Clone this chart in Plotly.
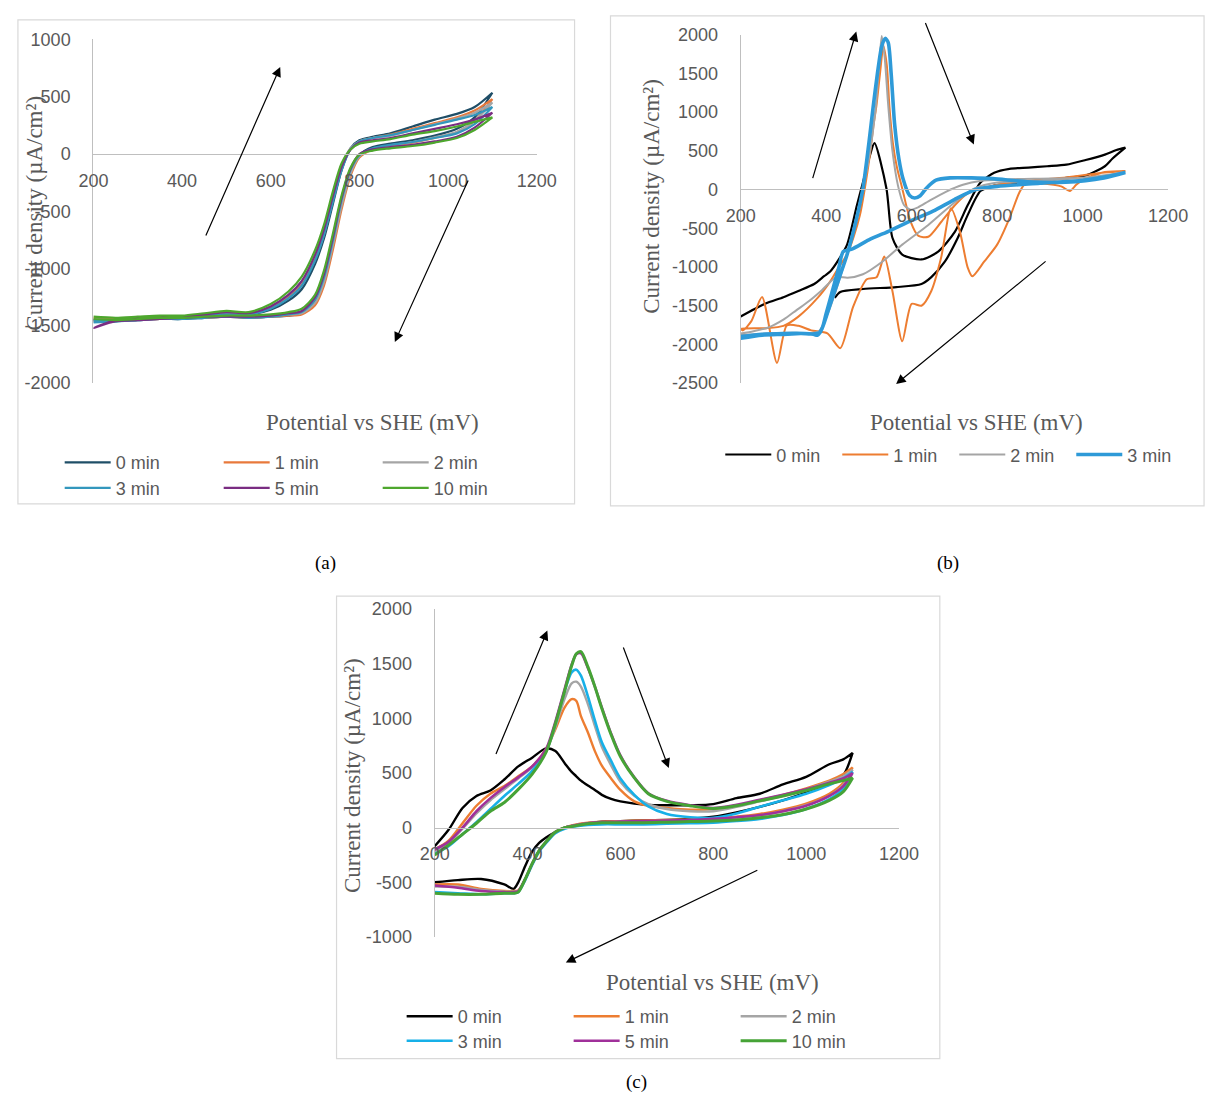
import plotly.graph_objects as go

W, H = 1226, 1108

# ---------------- Panel (a) data ----------------
A_NAMES = ["0 min", "1 min", "2 min", "3 min", "5 min", "10 min"]
A_COLORS = ["#1f4e67", "#e8793b", "#a5a5a5", "#3397bd", "#7a2d82", "#4ea72e"]
A_POT = [200, 250, 300, 350, 400, 450, 500, 550, 600, 640, 670, 700, 720, 740, 760, 780, 800, 830, 870, 920, 970, 1020, 1060, 1100]
# forward (left-hand rise, upper at high potential)
A_FWD_0 = [-1450, -1460, -1440, -1420, -1420, -1400, -1390, -1400, -1360, -1280, -1180, -960, -740, -440, -140, 50, 120, 150, 180, 240, 300, 350, 410, 535]
A_FWD_1 = [-1430, -1440, -1430, -1420, -1420, -1410, -1400, -1400, -1340, -1250, -1140, -920, -700, -400, -120, 40, 110, 140, 170, 220, 270, 320, 380, 480]
A_FWD_2 = [-1440, -1450, -1440, -1420, -1420, -1400, -1390, -1390, -1330, -1230, -1110, -880, -660, -360, -100, 50, 110, 140, 160, 210, 260, 310, 360, 450]
A_FWD_3 = [-1450, -1460, -1450, -1430, -1420, -1410, -1400, -1400, -1350, -1260, -1150, -930, -710, -420, -140, 40, 110, 140, 165, 210, 255, 300, 340, 410]
A_FWD_5 = [-1520, -1450, -1430, -1420, -1420, -1400, -1380, -1390, -1330, -1230, -1110, -880, -660, -370, -110, 40, 100, 120, 140, 180, 220, 260, 300, 360]
A_FWD_10 = [-1420, -1430, -1420, -1410, -1410, -1390, -1370, -1380, -1310, -1200, -1070, -840, -620, -330, -80, 40, 90, 110, 130, 170, 200, 240, 280, 320]
# reverse (right-hand fall), listed at ascending potential
A_REV_0 = [-1460, -1460, -1450, -1440, -1440, -1430, -1420, -1430, -1420, -1410, -1390, -1290, -1100, -780, -420, -150, -10, 60, 90, 120, 160, 220, 320, 535]
A_REV_1 = [-1450, -1450, -1440, -1440, -1430, -1430, -1420, -1430, -1420, -1410, -1400, -1320, -1150, -840, -480, -190, -30, 40, 70, 100, 140, 190, 290, 480]
A_REV_2 = [-1450, -1450, -1440, -1430, -1430, -1420, -1420, -1420, -1410, -1400, -1390, -1300, -1120, -800, -450, -170, -20, 45, 75, 105, 145, 195, 290, 450]
A_REV_3 = [-1470, -1460, -1450, -1440, -1440, -1430, -1420, -1430, -1420, -1400, -1380, -1270, -1080, -760, -400, -140, -10, 50, 80, 105, 140, 180, 260, 410]
A_REV_5 = [-1520, -1460, -1450, -1440, -1430, -1420, -1420, -1420, -1410, -1390, -1370, -1250, -1050, -730, -380, -130, 0, 40, 60, 80, 110, 150, 230, 360]
A_REV_10 = [-1440, -1450, -1440, -1430, -1430, -1420, -1410, -1410, -1400, -1380, -1350, -1230, -1020, -700, -360, -120, -5, 30, 50, 70, 100, 140, 210, 320]

# ---------------- Panel (b) data ----------------
B_NAMES = ["0 min", "1 min", "2 min", "3 min"]
B_COLORS = ["#000000", "#ed7d31", "#a5a5a5", "#2e9ad8"]
B_WIDTHS = [2.2, 2.0, 2.0, 3.6]
B0_FWD_POT = [200, 257, 300, 335, 372, 395, 410, 430, 449, 472, 486, 502, 513, 541, 555, 578, 623, 662, 701, 731, 761, 793, 829, 873, 917, 962, 1007, 1052, 1079, 1100]
B0_FWD_CUR = [-1640, -1476, -1390, -1310, -1221, -1120, -1056, -900, -712, -204, 89, 433, 598, 13, -623, -840, -903, -802, -547, -204, 89, 216, 267, 283, 300, 320, 380, 450, 510, 540]
B0_REV_POT = [1100, 1070, 1052, 1007, 962, 917, 873, 829, 793, 761, 731, 708, 678, 646, 623, 564, 486, 433, 420]
B0_REV_CUR = [540, 400, 300, 180, 150, 120, 100, 75, 50, -20, -331, -623, -929, -1132, -1221, -1260, -1285, -1323, -1400]
B1_FWD_POT = [200, 260, 300, 335, 380, 410, 430, 449, 465, 479, 490, 502, 510, 518, 526, 534, 542, 548, 556, 565, 578, 598, 616, 639, 669, 701, 731, 793, 873, 962, 1052, 1100]
B1_FWD_CUR = [-1800, -1790, -1760, -1641, -1400, -1183, -1000, -840, -600, -331, 0, 433, 800, 1100, 1500, 1850, 1600, 1069, 600, 300, 13, -420, -600, -610, -420, -204, -51, 51, 114, 156, 219, 240]
B1_REV_POT = [1100, 1052, 1000, 985, 970, 950, 900, 868, 852, 829, 800, 770, 742, 731, 713, 692, 669, 646, 623, 600, 578, 555, 536, 518, 495, 463, 433, 403, 365, 335, 308, 285, 250, 225, 205, 200]
B1_REV_CUR = [240, 225, 120, 60, -20, 40, 80, 89, -38, -369, -712, -929, -1120, -1005, -547, -242, -878, -1310, -1501, -1476, -1959, -1310, -865, -1132, -1158, -1514, -2048, -1857, -1819, -1760, -1756, -2239, -1387, -1700, -1819, -1800]
B2_FWD_POT = [200, 260, 320, 370, 385, 400, 420, 440, 460, 480, 500, 515, 524, 530, 537, 545, 555, 568, 582, 597, 615, 640, 680, 720, 760, 820, 900, 1000, 1060, 1100]
B2_FWD_CUR = [-1880, -1860, -1850, -1850, -1820, -1650, -1350, -1000, -600, -150, 400, 1000, 1600, 1980, 1700, 1100, 500, 50, -200, -260, -230, -150, -30, 60, 110, 130, 140, 150, 190, 230]
B2_REV_POT = [1100, 1050, 1000, 900, 800, 747, 701, 639, 578, 532, 486, 450, 424, 390, 360, 330, 300, 263, 230, 200]
B2_REV_CUR = [230, 180, 150, 110, 90, 13, -165, -458, -712, -929, -1094, -1140, -1131, -1300, -1440, -1560, -1680, -1785, -1830, -1860]
B3_FWD_POT = [200, 250, 300, 350, 370, 380, 390, 410, 430, 449, 470, 486, 500, 510, 520, 530, 538, 545, 552, 560, 570, 580, 595, 607, 620, 635, 657, 690, 740, 790, 870, 960, 1050, 1100]
B3_FWD_CUR = [-1900, -1870, -1860, -1860, -1870, -1880, -1800, -1476, -1150, -840, -400, 13, 600, 1069, 1500, 1850, 1950, 1900, 1500, 852, 400, 135, -76, -110, -80, 20, 120, 150, 150, 140, 100, 95, 150, 220]
B3_REV_POT = [1100, 1050, 1000, 900, 800, 750, 700, 650, 600, 550, 500, 460, 440, 430, 415, 400, 385, 340, 300, 250, 200]
B3_REV_CUR = [220, 160, 120, 80, 40, 0, -130, -280, -400, -530, -650, -770, -800, -1000, -1300, -1600, -1850, -1860, -1870, -1880, -1920]

# ---------------- Panel (c) data ----------------
C_NAMES = ["0 min", "1 min", "2 min", "3 min", "5 min", "10 min"]
C_COLORS = ["#000000", "#ed7d31", "#a5a5a5", "#17b0e8", "#a0309a", "#46a336"]
C_WIDTHS = [2.4, 2.4, 2.4, 2.6, 2.6, 3.0]
C_FWD_POT = [200, 230, 260, 290, 320, 350, 380, 410, 440, 460, 480, 495, 505, 515, 530, 545, 560, 580, 600, 630, 660, 700, 750, 800, 850, 900, 950, 1000, 1050, 1080, 1100]
C_FWD_0 = [-170, -20, 180, 290, 340, 440, 560, 640, 725, 700, 590, 510, 470, 430, 385, 345, 300, 262, 240, 220, 208, 205, 205, 215, 270, 310, 395, 465, 580, 625, 684]
C_FWD_1 = [-200, -120, 40, 200, 310, 380, 470, 560, 720, 900, 1100, 1175, 1160, 1020, 870, 700, 567, 450, 345, 240, 200, 180, 165, 170, 200, 250, 300, 360, 430, 490, 550]
C_FWD_2 = [-220, -140, -10, 130, 250, 350, 450, 550, 700, 920, 1180, 1320, 1335, 1290, 1130, 930, 740, 570, 420, 290, 215, 170, 150, 150, 190, 240, 290, 350, 420, 470, 530]
C_FWD_3 = [-240, -170, -60, 50, 170, 290, 400, 520, 700, 950, 1250, 1420, 1445, 1390, 1200, 980, 780, 610, 450, 300, 195, 125, 95, 90, 130, 190, 250, 310, 390, 450, 510]
C_FWD_5 = [-200, -130, 0, 150, 270, 370, 460, 560, 720, 970, 1270, 1490, 1585, 1595, 1460, 1290, 1100, 860, 660, 460, 315, 245, 205, 180, 210, 255, 300, 350, 410, 450, 500]
C_FWD_10 = [-250, -160, -60, 40, 150, 230, 350, 490, 690, 950, 1250, 1480, 1590, 1610, 1470, 1290, 1090, 850, 650, 455, 310, 240, 200, 175, 200, 245, 290, 340, 400, 430, 455]
C_REV_POT = [200, 250, 300, 350, 370, 380, 395, 410, 425, 440, 460, 480, 500, 530, 560, 600, 650, 700, 750, 800, 850, 900, 950, 1000, 1050, 1080, 1100]
C_REV_0 = [-500, -480, -470, -520, -560, -500, -350, -220, -140, -90, -40, 0, 20, 40, 55, 60, 65, 70, 80, 100, 140, 190, 250, 320, 400, 480, 684]
C_REV_1 = [-520, -520, -560, -580, -580, -575, -470, -330, -210, -130, -40, 0, 25, 45, 55, 60, 65, 70, 75, 85, 100, 125, 165, 220, 310, 410, 550]
C_REV_2 = [-540, -540, -570, -585, -585, -580, -470, -330, -210, -130, -40, 0, 20, 40, 50, 55, 58, 62, 68, 75, 90, 110, 150, 205, 290, 390, 530]
C_REV_3 = [-590, -600, -610, -600, -600, -590, -480, -340, -220, -140, -50, -10, 10, 25, 30, 30, 30, 35, 40, 45, 60, 80, 115, 170, 260, 360, 510]
C_REV_5 = [-530, -550, -580, -590, -590, -580, -470, -330, -210, -130, -40, 0, 20, 40, 50, 55, 60, 65, 70, 80, 95, 115, 150, 200, 290, 380, 500]
C_REV_10 = [-600, -610, -610, -600, -600, -590, -470, -330, -210, -130, -40, 0, 15, 35, 45, 45, 45, 50, 55, 60, 70, 90, 120, 170, 250, 330, 455]

# ---------------- tick labels ----------------
X_TICKS = [200, 400, 600, 800, 1000, 1200]
X_TICK_TEXT = ["200", "400", "600", "800", "1000", "1200"]
A_Y_TICKS = [-2000, -1500, -1000, -500, 0, 500, 1000]
A_Y_TEXT = ["-2000", "-1500", "-1000", "-500", "0", "500", "1000"]
B_Y_TICKS = [-2500, -2000, -1500, -1000, -500, 0, 500, 1000, 1500, 2000]
B_Y_TEXT = ["-2500", "-2000", "-1500", "-1000", "-500", "0", "500", "1000", "1500", "2000"]
C_Y_TICKS = [-1000, -500, 0, 500, 1000, 1500, 2000]
C_Y_TEXT = ["-1000", "-500", "0", "500", "1000", "1500", "2000"]

A_FWD = [A_FWD_0, A_FWD_1, A_FWD_2, A_FWD_3, A_FWD_5, A_FWD_10]
A_REV = [A_REV_0, A_REV_1, A_REV_2, A_REV_3, A_REV_5, A_REV_10]
B_FWD = [(B0_FWD_POT, B0_FWD_CUR), (B1_FWD_POT, B1_FWD_CUR), (B2_FWD_POT, B2_FWD_CUR), (B3_FWD_POT, B3_FWD_CUR)]
B_REV = [(B0_REV_POT, B0_REV_CUR), (B1_REV_POT, B1_REV_CUR), (B2_REV_POT, B2_REV_CUR), (B3_REV_POT, B3_REV_CUR)]
C_FWD = [C_FWD_0, C_FWD_1, C_FWD_2, C_FWD_3, C_FWD_5, C_FWD_10]
C_REV = [C_REV_0, C_REV_1, C_REV_2, C_REV_3, C_REV_5, C_REV_10]

TICK_FONT = dict(family="Liberation Sans, Arial, sans-serif", size=18, color="#595959")
TITLE_FONT = dict(family="Liberation Serif, Times New Roman, serif", size=23, color="#595959")
LEG_FONT = dict(family="Liberation Sans, Arial, sans-serif", size=18, color="#595959")
AXIS_COLOR = "#bfbfbf"


def px(x):
    return x / W


def py(y):
    return 1 - y / H


fig = go.Figure()

# panel (a) traces
for i, name in enumerate(A_NAMES):
    xs = A_POT + A_POT[::-1]
    ys = A_FWD[i] + A_REV[i][::-1]
    fig.add_trace(go.Scatter(x=xs, y=ys, mode="lines", name=name,
                             line=dict(color=A_COLORS[i], width=2.2, shape="spline", smoothing=0.8),
                             xaxis="x", yaxis="y", legend="legend" if i < 3 else "legend2"))
# panel (b) traces
for i, name in enumerate(B_NAMES):
    xs = list(B_FWD[i][0]) + list(B_REV[i][0])
    ys = list(B_FWD[i][1]) + list(B_REV[i][1])
    fig.add_trace(go.Scatter(x=xs, y=ys, mode="lines", name=name,
                             line=dict(color=B_COLORS[i], width=B_WIDTHS[i], shape="spline", smoothing=0.7),
                             xaxis="x2", yaxis="y2", legend="legend3"))
# panel (c) traces
for i, name in enumerate(C_NAMES):
    xs = C_FWD_POT + C_REV_POT[::-1]
    ys = C_FWD[i] + C_REV[i][::-1]
    fig.add_trace(go.Scatter(x=xs, y=ys, mode="lines", name=name,
                             line=dict(color=C_COLORS[i], width=C_WIDTHS[i], shape="spline", smoothing=0.8),
                             xaxis="x3", yaxis="y3", legend="legend4" if i < 3 else "legend5"))

# axes geometry: (x0px, x1px, ytop_px, ybot_px, xrange, yrange, yticks, ytext)
PANELS = {
    "": (80.7, 537, 30, 380, [200, 1200], [-2000, 1000], A_Y_TICKS, A_Y_TEXT),
    "2": (747, 1187, 25, 380, [200, 1200], [-2500, 2000], B_Y_TICKS, B_Y_TEXT),
    "3": (432, 910, 610, 944, [200, 1200], [-1000, 2000], C_Y_TICKS, C_Y_TEXT),
}
layout_axes = {}
for k, (x0, x1, yt, yb, xr, yr, ytv, ytt) in PANELS.items():
    ydom = [py(yb), py(yt)]
    zero_pos = ydom[0] + (0 - yr[0]) / (yr[1] - yr[0]) * (ydom[1] - ydom[0])
    layout_axes["xaxis" + k] = dict(
        domain=[px(x0), px(x1)], range=xr, anchor="free", position=zero_pos,
        tickvals=X_TICKS, ticktext=X_TICK_TEXT, showgrid=False, zeroline=False,
        showline=True, linecolor=AXIS_COLOR, linewidth=1.3, ticks="",
        tickfont=TICK_FONT, ticklabelstandoff=10)
    layout_axes["yaxis" + k] = dict(
        domain=ydom, range=yr, anchor="x" + k, tickvals=ytv, ticktext=ytt,
        showgrid=False, zeroline=False,
        showline=True, linecolor=AXIS_COLOR, linewidth=1.3, ticks="",
        tickfont=TICK_FONT, ticklabelstandoff=18)
fig.update_layout(**layout_axes)


# legends
def leg(xpx, ypx, ew):
    return dict(orientation="h", x=px(xpx), y=py(ypx), xanchor="left", yanchor="middle",
                font=LEG_FONT, bgcolor="rgba(0,0,0,0)", itemwidth=46,
                entrywidth=ew, entrywidthmode="pixels", tracegroupgap=0)


fig.update_layout(legend=leg(46, 461, 98), legend2=leg(46, 487, 98),
                  legend3=leg(726, 453, 56),
                  legend4=leg(398, 1025, 106), legend5=leg(398, 1050, 106))

annotations = []
# axis titles
YT = "Current density (µA/cm²)"
XT = "Potential vs SHE (mV)"
for (xc, yc) in [(20, 207), (655, 190), (348, 780)]:
    annotations.append(dict(text=YT, x=px(xc), y=py(yc), xref="paper", yref="paper",
                            showarrow=False, textangle=-90, font=TITLE_FONT,
                            xanchor="center", yanchor="middle"))
for (xc, yc) in [(368, 420), (990, 420), (718, 990)]:
    annotations.append(dict(text=XT, x=px(xc), y=py(yc), xref="paper", yref="paper",
                            showarrow=False, font=TITLE_FONT, xanchor="center", yanchor="middle"))
# panel labels
for (t, xc, yc) in [("(a)", 320, 563), ("(b)", 960, 563), ("(c)", 640, 1092)]:
    annotations.append(dict(text=t, x=px(xc), y=py(yc), xref="paper", yref="paper", showarrow=False,
                            font=dict(family="Liberation Serif, Times New Roman, serif", size=19, color="#000000"),
                            xanchor="center", yanchor="middle"))
# scan direction arrows (tail px, head px)
ARROWS = [((198, 228), (273, 58)), ((465, 175), (391, 338)),
          ((822, 170), (866, 22)), ((938, 14), (987, 137)), ((1058, 257), (907, 381)),
          ((496, 757), (548, 632)), ((627, 650), (673, 772)), ((760, 877), (567, 970))]
for (tx, ty), (hx, hy) in ARROWS:
    annotations.append(dict(text="", x=px(hx), y=py(hy), xref="paper", yref="paper",
                            ax=tx - hx, ay=ty - hy, axref="pixel", ayref="pixel",
                            showarrow=True, arrowhead=2, arrowsize=1.6, arrowwidth=1.2,
                            arrowcolor="#000000"))
fig.update_layout(annotations=annotations)

# panel frames
shapes = []
for (x0, y0, x1, y1) in [(3, 10, 576, 503), (613, 6, 1224, 505), (331, 597, 952, 1068)]:
    shapes.append(dict(type="rect", xref="paper", yref="paper", x0=px(x0), x1=px(x1),
                       y0=py(y1), y1=py(y0), line=dict(color="#d9d9d9", width=1.2),
                       fillcolor="rgba(0,0,0,0)", layer="below"))
fig.update_layout(shapes=shapes)

fig.update_layout(width=W, height=H, margin=dict(l=0, r=0, t=0, b=0),
                  paper_bgcolor="white", plot_bgcolor="white", showlegend=True)

fig.write_html("out.html")
